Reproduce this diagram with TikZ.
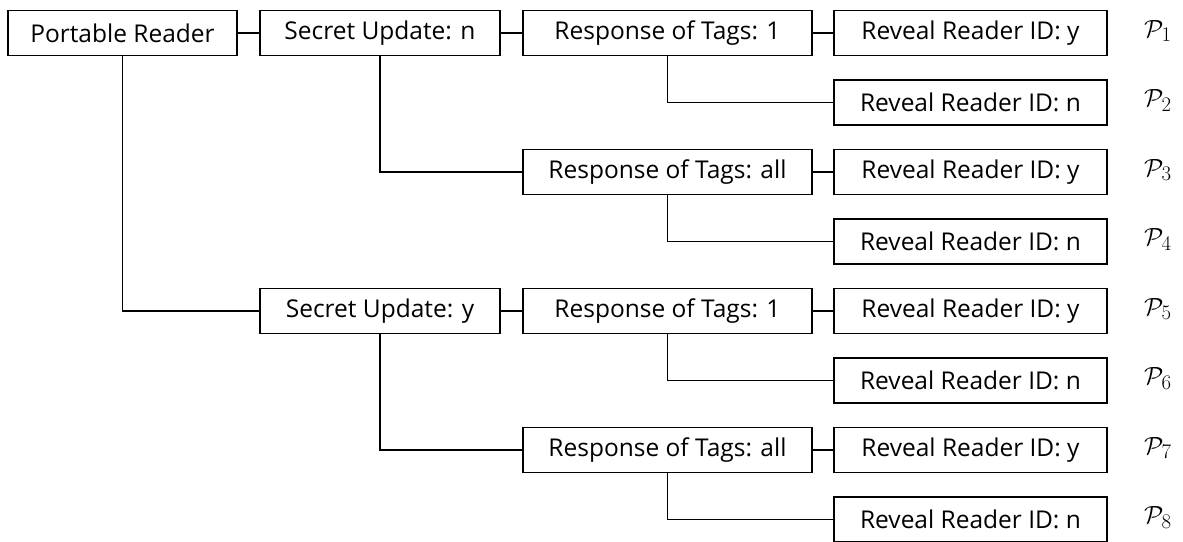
\documentclass[tikz,border=0pt]{standalone}
\usepackage{fontspec}
\setmainfont{Open Sans}
\begin{document}
\begin{tikzpicture}[x=1pt,y=-1pt,
  box/.style={draw, line width=1.6pt, minimum height=45pt, inner sep=0pt, font=\fontsize{24.5}{28}\selectfont},
  w1/.style={box, minimum width=229pt},
  w2/.style={box, minimum width=240pt},
  w3/.style={box, minimum width=289pt},
  w4/.style={box, minimum width=273pt},
  conn/.style={draw, line width=1.2pt},
  plab/.style={font=\fontsize{25}{30}\selectfont, anchor=west, inner sep=0pt}]
\useasboundingbox (0,0) rectangle (1183,541);
\def\ry#1{\fpeval{33+69.5*(#1-1)}}
% level 1
\node[w1] (pr) at (122.5,33) {Portable Reader};
% level 2
\node[w2] (sn) at (380,33) {Secret Update: n};
\node[w2] (sy) at (380,\ry{5}) {Secret Update: y};
% level 3
\node[w3] (r1) at (667.5,33) {Response of Tags: 1};
\node[w3] (r2) at (667.5,\ry{3}) {Response of Tags: all};
\node[w3] (r3) at (667.5,\ry{5}) {Response of Tags: 1};
\node[w3] (r4) at (667.5,\ry{7}) {Response of Tags: all};
% level 4
\node[w4] (v1) at (970.5,\ry{1}) {Reveal Reader ID: y};
\node[w4] (v2) at (970.5,\ry{2}) {Reveal Reader ID: n};
\node[w4] (v3) at (970.5,\ry{3}) {Reveal Reader ID: y};
\node[w4] (v4) at (970.5,\ry{4}) {Reveal Reader ID: n};
\node[w4] (v5) at (970.5,\ry{5}) {Reveal Reader ID: y};
\node[w4] (v6) at (970.5,\ry{6}) {Reveal Reader ID: n};
\node[w4] (v7) at (970.5,\ry{7}) {Reveal Reader ID: y};
\node[w4] (v8) at (970.5,\ry{8}) {Reveal Reader ID: n};
% labels
\foreach \i in {1,...,8} {
  \node[plab] (p\i) at (1144,\fpeval{33+69.5*(\i-1)-2}) {$\mathcal{P}_{\scalebox{1.2}{$\scriptstyle\i$}}$};
}
% connectors
\draw[conn] (pr.east) -- (sn.west);
\draw[conn] (pr.south) |- (sy.west);
\draw[conn] (sn.east) -- (r1.west);
\draw[conn] (sn.south) |- (r2.west);
\draw[conn] (sy.east) -- (r3.west);
\draw[conn] (sy.south) |- (r4.west);
\draw[conn] (r1.east) -- (v1.west);
\draw[conn] (r1.south) |- (v2.west);
\draw[conn] (r2.east) -- (v3.west);
\draw[conn] (r2.south) |- (v4.west);
\draw[conn] (r3.east) -- (v5.west);
\draw[conn] (r3.south) |- (v6.west);
\draw[conn] (r4.east) -- (v7.west);
\draw[conn] (r4.south) |- (v8.west);
\end{tikzpicture}
\end{document}
